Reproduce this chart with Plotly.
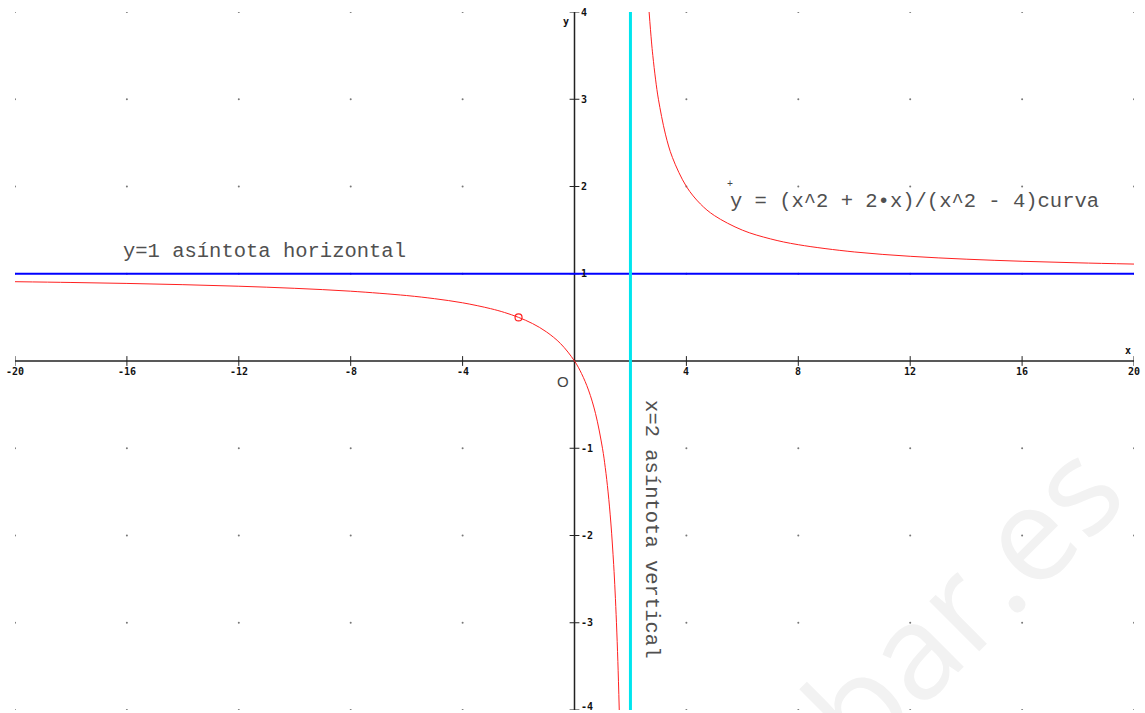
import plotly.graph_objects as go

# Curve y = (x^2 + 2x)/(x^2 - 4) (two branches)
left_x = [-20, -18, -16, -14, -12, -10, -8, -6, -5, -4, -3, -2.5, -2, -1.5, -1, -0.5,
          0, 0.25, 0.5, 0.75, 1.0, 1.1, 1.2, 1.3, 1.4, 1.45, 1.5, 1.55, 1.6]
left_y = [0.909, 0.900, 0.889, 0.875, 0.857, 0.833, 0.800, 0.750, 0.714, 0.667, 0.600, 0.556,
          0.500, 0.429, 0.333, 0.200, 0.000, -0.143, -0.333, -0.600, -1.000, -1.222, -1.500,
          -1.857, -2.333, -2.636, -3.000, -3.444, -4.000]
right_x = [2.667, 2.75, 2.8, 2.9, 3.0, 3.25, 3.5, 4, 4.5, 5, 6, 7, 8, 10, 12, 14, 16, 18, 20]
right_y = [4.0, 3.667, 3.5, 3.222, 3.0, 2.6, 2.333, 2.0, 1.8, 1.667, 1.5, 1.4, 1.333, 1.25,
           1.2, 1.167, 1.143, 1.125, 1.111]

hole_x = [-2]
hole_y = [0.5]

h_asym = 1
v_asym = 2

x_ticks = [-20, -16, -12, -8, -4, 4, 8, 12, 16, 20]
y_ticks = [-4, -3, -2, -1, 1, 2, 3, 4]

grid_x = [-20, -16, -12, -8, -4, 4, 8, 12, 16, 20]
grid_y = [-4, -3, -2, -1, 1, 2, 3, 4]

XMIN, XMAX, YMIN, YMAX = -20, 20, -4, 4

fig = go.Figure()

# grid dots
gx = [x for x in grid_x for y in grid_y]
gy = [y for x in grid_x for y in grid_y]
fig.add_trace(go.Scatter(x=gx, y=gy, mode="markers",
                         marker=dict(size=2, color="#777777"), hoverinfo="skip"))

# axes
fig.add_trace(go.Scatter(x=[XMIN, XMAX], y=[0, 0], mode="lines",
                         line=dict(color="#222222", width=1.5), hoverinfo="skip"))
fig.add_trace(go.Scatter(x=[0, 0], y=[YMIN, YMAX], mode="lines",
                         line=dict(color="#222222", width=1.5), hoverinfo="skip"))
# tick marks
fig.add_trace(go.Scatter(x=x_ticks, y=[0] * len(x_ticks), mode="markers",
                         marker=dict(symbol="line-ns-open", size=7, color="#222222",
                                     line=dict(width=1, color="#222222")), hoverinfo="skip"))
fig.add_trace(go.Scatter(x=[0] * len(y_ticks), y=y_ticks, mode="markers",
                         marker=dict(symbol="line-ew-open", size=7, color="#222222",
                                     line=dict(width=1, color="#222222")), hoverinfo="skip"))

# asymptotes
fig.add_trace(go.Scatter(x=[XMIN, XMAX], y=[h_asym, h_asym], mode="lines",
                         line=dict(color="#0000ff", width=2), hoverinfo="skip"))
fig.add_trace(go.Scatter(x=[v_asym, v_asym], y=[YMIN, YMAX], mode="lines",
                         line=dict(color="#00e5ee", width=3), hoverinfo="skip"))

# curve
fig.add_trace(go.Scatter(x=left_x, y=left_y, mode="lines", line=dict(color="#ff2020", width=1),
                         line_shape="spline", hoverinfo="skip"))
fig.add_trace(go.Scatter(x=right_x, y=right_y, mode="lines", line=dict(color="#ff2020", width=1),
                         line_shape="spline", hoverinfo="skip"))
fig.add_trace(go.Scatter(x=hole_x, y=hole_y, mode="markers",
                         marker=dict(symbol="circle-open", size=7, color="#ff2020",
                                     line=dict(width=1.2)), hoverinfo="skip"))

tick_font = dict(family="DejaVu Sans Mono", size=10, color="#111111")
ann = []
# faint watermark (drawn first so it sits under the other texts)
ann.append(dict(x=13.8, y=-2.72, text="bar.es", showarrow=False, textangle=-45,
                xanchor="center", yanchor="middle",
                font=dict(family="Open Sans", size=132, color="#f2f2f2")))
for t in x_ticks:
    ann.append(dict(x=t, y=0, text="<b>%d</b>" % t, showarrow=False, xanchor="center",
                    yanchor="top", yshift=-3, font=tick_font))
for t in y_ticks:
    ann.append(dict(x=0, y=t, text="<b>%d</b>" % t, showarrow=False, xanchor="left",
                    yanchor="middle", xshift=4, yshift=(4 if t == YMIN else 0),
                    font=tick_font))
ann.append(dict(x=XMAX, y=0, text="<b>x</b>", showarrow=False, xanchor="right",
                yanchor="bottom", yshift=3, xshift=-1, font=tick_font))
ann.append(dict(x=0, y=YMAX, text="<b>y</b>", showarrow=False, xanchor="right",
                yanchor="top", xshift=-4, yshift=-2, font=tick_font))

label_font = dict(family="Liberation Mono", size=20.5, color="#505050")
ann.append(dict(x=-0.4, y=-0.24, text="O", showarrow=False, xanchor="center",
                yanchor="middle", font=dict(family="Liberation Sans", size=15, color="#444444")))
ann.append(dict(x=-16.2, y=1.25, text="y=1 asíntota horizontal", showarrow=False,
                xanchor="left", yanchor="middle", font=label_font))
ann.append(dict(x=5.5, y=1.83, text="y = (x^2 + 2•x)/(x^2 - 4)curva", showarrow=False,
                xanchor="left", yanchor="middle", font=label_font))
ann.append(dict(x=5.55, y=2.02, text="+", showarrow=False, xanchor="center", yanchor="middle",
                font=dict(family="Liberation Mono", size=10, color="#444444")))
ann.append(dict(x=2.75, y=-0.43, text="x=2 asíntota vertical", showarrow=False,
                textangle=90, xanchor="center", yanchor="top", font=label_font))

fig.update_layout(
    width=1145, height=713,
    margin=dict(l=15, r=11, t=12, b=3),
    paper_bgcolor="white", plot_bgcolor="white",
    showlegend=False,
    xaxis=dict(range=[XMIN, XMAX], visible=False, fixedrange=True),
    yaxis=dict(range=[YMIN, YMAX], visible=False, fixedrange=True),
    annotations=ann,
)

fig.write_html("out.html", config={"displayModeBar": False},
               post_script="document.body.style.margin='0';document.body.style.overflow='hidden';")
